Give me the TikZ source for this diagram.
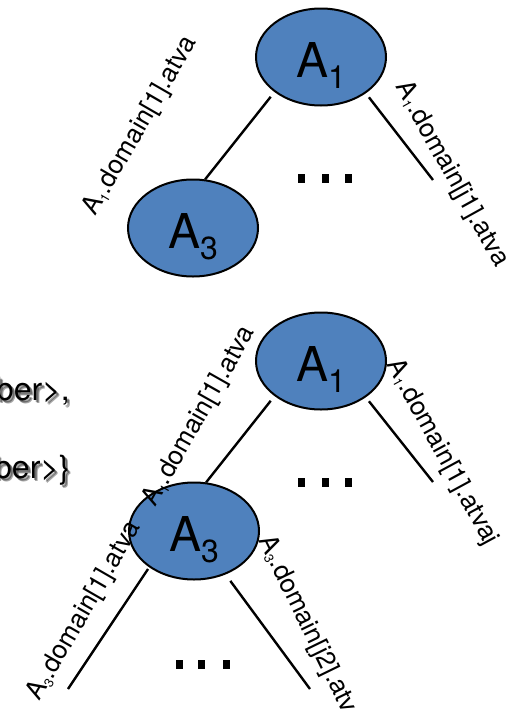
\documentclass[tikz,border=0pt]{standalone}
\usepackage{fontspec}
\setmainfont{TeX Gyre Heros}
\usetikzlibrary{shapes.geometric}
\definecolor{nodeblue}{HTML}{4F81BD}
% large node name with lowered index
\newcommand{\statename}[1]{\fontsize{48}{50}\selectfont A\raisebox{-11pt}{\fontsize{32}{34}\selectfont #1}}
% small index inside edge labels
\newcommand{\lsub}[1]{\raisebox{-0.12em}{\fontsize{13}{13}\selectfont #1}}

\begin{document}
\begin{tikzpicture}[x=1pt,y=-1pt,
  state/.style={ellipse, draw=black, line width=2pt, fill=nodeblue,
    minimum width=130pt, minimum height=97pt, inner sep=0pt,
    text height=40pt, text depth=0pt},
  edge/.style={line width=2.4pt},
  elabel/.style={font=\fontsize{26}{28}\selectfont, inner sep=0pt},
  slidetext/.style={font=\fontsize{32}{34}\selectfont, inner sep=0pt, anchor=base east},
  shadowtext/.style={slidetext, text=black, opacity=0.35}
]
\useasboundingbox (0,0) rectangle (517,710);
\clip (0,0) rectangle (517,710);

% ---- cut-off slide text on the left, with a soft drop shadow
\foreach \dx/\dy in {2/2,3/3}{
  \node[shadowtext] at (70+\dx,400+\dy) {ber>,};
  \node[shadowtext] at (70+\dx,478+\dy) {ber>\}};
}
\node[slidetext] (t1) at (70,400) {ber>,};
\node[slidetext] (t2) at (70,478) {ber>\}};

% ---- upper tree
\node[state] (A1t) at (321,57) {\statename{1}};
\node[state] (A3t) at (193,228) {\statename{3}};
\coordinate (rt) at (433,180);
\draw[edge, shorten <=6pt] (A1t.217) -- (A3t.76);
\draw[edge, shorten <=5pt] (A1t.-39) -- (rt);
\foreach \x in {301.5,325.5,348.5}
  \fill (\x-3.5,173.5) rectangle (\x+3.5,182.5);
\node[elabel, rotate=60] (l1) at (140.5,126) {A\lsub{1}.domain[1].atva};
\node[elabel, rotate=-61] (l2) at (451.5,174.5) {A\lsub{1}.domain[j1].atva};

% ---- lower tree
\node[state] (A1b) at (321,361) {\statename{1}};
\node[state] (A3b) at (194,531) {\statename{3}};
\coordinate (rb) at (433,482);
\coordinate (ll) at (68,689);
\coordinate (lr) at (310,689);
\draw[edge, shorten <=6pt] (A1b.217) -- (A3b.76);
\draw[edge, shorten <=5pt] (A1b.-39) -- (rb);
\draw[edge, shorten <=2pt] (A3b.219) -- (ll);
\draw[edge, shorten <=8pt] (A3b.-54) -- (lr);
\foreach \x in {301.5,325.5,348.5}
  \fill (\x-3.5,478) rectangle (\x+3.5,487);
\foreach \x in {179,201.5,226}
  \fill (\x-3.5,660) rectangle (\x+3.5,669);
\node[elabel, rotate=60.5] (l3) at (199.5,416.5) {A\lsub{1}.domain[1].atva};
\node[elabel, rotate=-61.5] (l4) at (442,452.5) {A\lsub{1}.domain[1].atvaj};
\node[elabel, rotate=60] (l5) at (84.5,611) {A\lsub{3}.domain[1].atva};
\node[elabel, rotate=-64] (l6) at (310,631) {A\lsub{3}.domain[j2].atva};
\end{tikzpicture}
\end{document}
